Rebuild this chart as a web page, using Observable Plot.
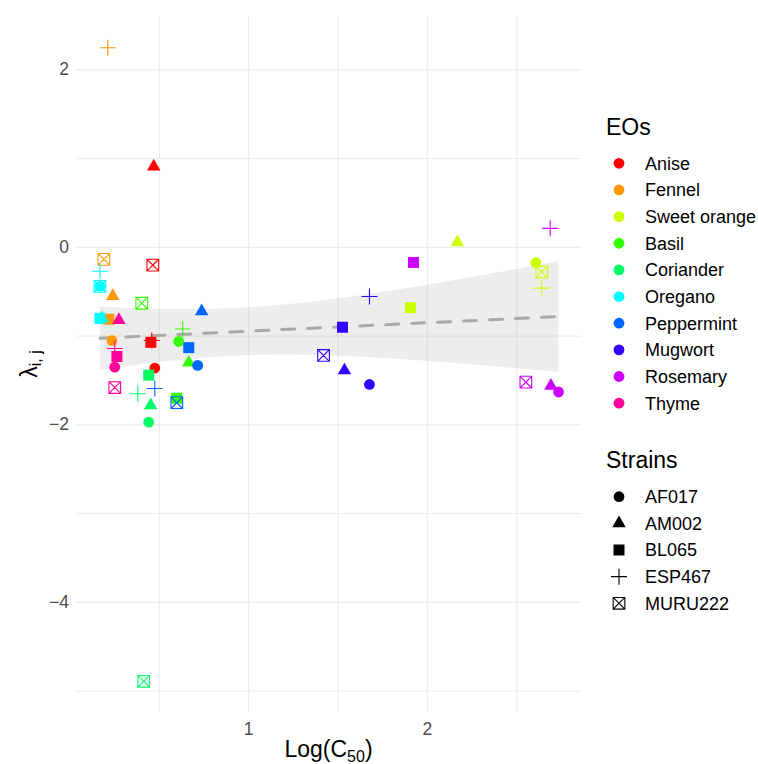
<!DOCTYPE html>
<html><head><meta charset="utf-8">
<script src="https://cdn.jsdelivr.net/npm/d3@7"></script>
<script src="https://cdn.jsdelivr.net/npm/@observablehq/plot@0.6"></script>
<style>html,body{margin:0;padding:0;background:#fff;} #chart{width:758px;height:764px;}</style>
</head><body><div id="chart"></div>
<script>
// ---- data ----
const eos = ["Anise","Fennel","Sweet orange","Basil","Coriander","Oregano","Peppermint","Mugwort","Rosemary","Thyme"];
const eoColors = ["#FF0000","#FF9900","#CCFF00","#33FF00","#00FF66","#00FFFF","#0066FF","#3300FF","#CC00FF","#FF0099"];
const strains = ["AF017","AM002","BL065","ESP467","MURU222"];
const xTicks = [1, 2];
const yTicks = [-4, -2, 0, 2];

// Log(C50) and lambda per EO, in strain order AF017, AM002, BL065, ESP467, MURU222
const logC50_Anise       = [0.475, 0.469, 0.453, 0.458, 0.464];
const lambda_Anise       = [-1.36, 0.91, -1.07, -1.05, -0.20];
const logC50_Fennel      = [0.235, 0.240, 0.218, 0.212, 0.190];
const lambda_Fennel      = [-1.05, -0.55, -0.81, 2.25, -0.135];
const logC50_SweetOrange = [2.607, 2.168, 1.905, 2.640, 2.640];
const lambda_SweetOrange = [-0.173, 0.056, -0.68, -0.459, -0.278];
const logC50_Basil       = [0.609, 0.665, 0.598, 0.631, 0.402];
const lambda_Basil       = [-1.06, -1.30, -1.70, -0.92, -0.63];
const logC50_Coriander   = [0.441, 0.452, 0.441, 0.380, 0.413];
const lambda_Coriander   = [-1.97, -1.78, -1.44, -1.65, -4.89];
const logC50_Oregano     = [0.168, 0.179, 0.168, 0.168, 0.168];
const lambda_Oregano     = [-0.44, -0.80, -0.80, -0.27, -0.44];
const logC50_Peppermint  = [0.715, 0.737, 0.665, 0.475, 0.598];
const lambda_Peppermint  = [-1.33, -0.72, -1.13, -1.59, -1.75];
const logC50_Mugwort     = [1.676, 1.536, 1.525, 1.676, 1.419];
const lambda_Mugwort     = [-1.545, -1.387, -0.90, -0.553, -1.218];
const logC50_Rosemary    = [2.734, 2.691, 1.922, 2.687, 2.551];
const lambda_Rosemary    = [-1.63, -1.56, -0.17, 0.214, -1.519];
const logC50_Thyme       = [0.251, 0.274, 0.263, 0.251, 0.251];
const lambda_Thyme       = [-1.35, -0.82, -1.23, -1.14, -1.58];

const xByEO = [logC50_Anise, logC50_Fennel, logC50_SweetOrange, logC50_Basil, logC50_Coriander,
               logC50_Oregano, logC50_Peppermint, logC50_Mugwort, logC50_Rosemary, logC50_Thyme];
const yByEO = [lambda_Anise, lambda_Fennel, lambda_SweetOrange, lambda_Basil, lambda_Coriander,
               lambda_Oregano, lambda_Peppermint, lambda_Mugwort, lambda_Rosemary, lambda_Thyme];

// ---- symbols (ggplot shapes 16, 17, 15, 3, 7) ----
const rad = size => Math.sqrt(size / Math.PI);
const symCircle = {draw(c, size){ const R = rad(size)*1.08; c.moveTo(R,0); c.arc(0,0,R,0,2*Math.PI); c.closePath(); }};
const symTriangle = {draw(c, size){ const s = rad(size)*2.7, h = s*Math.sqrt(3)/2; c.moveTo(0,-2*h/3); c.lineTo(s/2,h/3); c.lineTo(-s/2,h/3); c.closePath(); }};
const symSquare = {draw(c, size){ const a = rad(size)*1.1; c.moveTo(-a,-a); c.lineTo(a,-a); c.lineTo(a,a); c.lineTo(-a,a); c.closePath(); }};
const symPlus = {draw(c, size){ const a = rad(size)*1.6; c.moveTo(-a,0); c.lineTo(a,0); c.moveTo(0,-a); c.lineTo(0,a); }};
const symBoxX = {draw(c, size){ const a = rad(size)*1.17; c.moveTo(-a,-a); c.lineTo(a,-a); c.lineTo(a,a); c.lineTo(-a,a); c.closePath(); c.moveTo(-a,-a); c.lineTo(a,a); c.moveTo(a,-a); c.lineTo(-a,a); }};
const strainSymbols = [symCircle, symTriangle, symSquare, symPlus, symBoxX];
const strainFilled = [true, true, true, false, false];

const rows = [];
eos.forEach((eo, i) => strains.forEach((st, j) => {
  const x = xByEO[i][j], y = yByEO[i][j];
  if (x == null || y == null) return;
  rows.push({eo, strain: st, x, y,
    fill: strainFilled[j] ? eoColors[i] : "none",
    stroke: strainFilled[j] ? "none" : eoColors[i]});
}));

const xs = rows.map(d => d.x), ys = rows.map(d => d.y);
const [x0, x1] = d3.extent(xs), [y0, y1] = d3.extent(ys);
const xPad = (x1 - x0) * 0.05, yPad = (y1 - y0) * 0.05;

const FONT = "'Liberation Sans', Arial, Helvetica, sans-serif";
const GRID = "#EBEBEB";
const minus = d => d < 0 ? "\u2212" + Math.abs(d) : String(d);

const chart = Plot.plot({
  width: 758, height: 764,
  marginLeft: 76.5, marginRight: 177, marginTop: 15.5, marginBottom: 51.5,
  style: {fontFamily: FONT, background: "#fff", overflow: "visible"},
  x: {domain: [x0 - xPad, x1 + xPad]},
  y: {domain: [y0 - yPad, y1 + yPad]},
  color: {type: "identity"},
  symbol: {domain: strains, range: strainSymbols},
  marks: [
    Plot.ruleX([0.5, 1.5, 2.5], {stroke: GRID, strokeWidth: 1}),
    Plot.ruleY([-5, -3, -1, 1], {stroke: GRID, strokeWidth: 1}),
    Plot.ruleX(xTicks, {stroke: GRID, strokeWidth: 1.1}),
    Plot.ruleY(yTicks, {stroke: GRID, strokeWidth: 1.1}),
    Plot.linearRegressionY(rows, {x: "x", y: "y", stroke: "#A9A9A9", strokeWidth: 3,
      strokeDasharray: "13,13", fill: "#999999", fillOpacity: 0.18}),
    Plot.dot(rows, {x: "x", y: "y", symbol: "strain", fill: "fill", stroke: "stroke",
      strokeWidth: 1.1, r: 5}),
    Plot.axisX({ticks: xTicks, tickSize: 0, tickPadding: 10, fontSize: 17.5, color: "#4D4D4D", label: null, tickFormat: minus}),
    Plot.axisY({ticks: yTicks, tickSize: 0, tickPadding: 8, fontSize: 17.5, color: "#4D4D4D", label: null, tickFormat: minus})
  ]
});
document.getElementById("chart").appendChild(chart);

// ---- axis titles & legends ----
const svg = d3.select(chart);
const xt = svg.append("text").attr("x", 328.5).attr("y", 757).attr("text-anchor", "middle")
  .attr("font-family", FONT).attr("font-size", 23).attr("fill", "#000");
xt.append("tspan").text("Log(C");
xt.append("tspan").attr("font-size", 16).attr("dy", 5).text("50");
xt.append("tspan").attr("dy", -5).text(")");

const yt = svg.append("text").attr("transform", "translate(37,364) rotate(-90)").attr("text-anchor", "middle")
  .attr("font-family", FONT).attr("font-size", 23).attr("fill", "#000");
yt.append("tspan").text("\u03BB");
yt.append("tspan").attr("font-size", 16).attr("dy", 4).text("i, j");

const lg = svg.append("g").attr("font-family", FONT).attr("fill", "#000").attr("text-anchor", "start");
lg.append("text").attr("x", 606).attr("y", 135).attr("font-size", 23).text("EOs");
eos.forEach((name, i) => {
  const cy = 163.3 + i * 26.65;
  lg.append("path").attr("transform", `translate(619,${cy})`)
    .attr("d", d3.symbol(symCircle, Math.PI * 25)()).attr("fill", eoColors[i]);
  lg.append("text").attr("x", 645).attr("y", cy).attr("dy", "0.36em").attr("font-size", 18).text(name);
});
lg.append("text").attr("x", 606).attr("y", 468.3).attr("font-size", 23).text("Strains");
strains.forEach((name, j) => {
  const cy = 496.7 + j * 26.65;
  lg.append("path").attr("transform", `translate(619,${cy})`)
    .attr("d", d3.symbol(strainSymbols[j], Math.PI * 25)())
    .attr("fill", strainFilled[j] ? "#000" : "none")
    .attr("stroke", strainFilled[j] ? "none" : "#000").attr("stroke-width", 1.1);
  lg.append("text").attr("x", 645).attr("y", cy).attr("dy", "0.36em").attr("font-size", 18).text(name);
});
</script></body></html>
